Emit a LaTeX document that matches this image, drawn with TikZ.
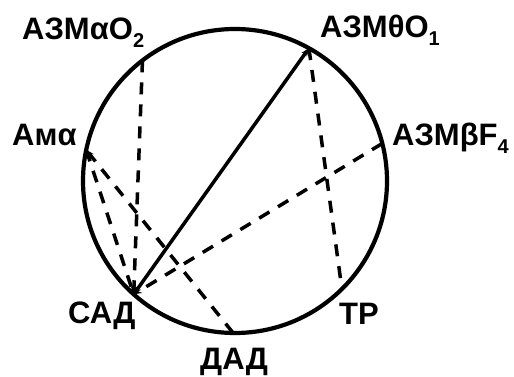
\documentclass[tikz,border=0pt]{standalone}
\usepackage{fontspec}
\setmainfont{Liberation Sans}
\usetikzlibrary{calc,arrows.meta}

\newcommand{\lowsub}[1]{\raisebox{-8pt}{\fontsize{20}{22}\selectfont #1}}

\begin{document}
\begin{tikzpicture}[
  x=1pt,y=1pt,
  line join=round,
  >={Stealth[length=8pt,width=6.5pt]},
  ring/.style={black,line width=4.2pt},
  mainline/.style={black,line width=3.5pt},
  linkline/.style={black,line width=3.5pt,dash pattern=on 12pt off 10pt},
  lbl/.style={font=\fontsize{31}{34}\selectfont\bfseries,inner sep=0pt,anchor=base west}
]
\path[use as bounding box] (0,0) rectangle (514,376);

\coordinate (C) at (235,195);
\draw[ring] (C) circle[radius=152];

% points on the circle
\coordinate (azmaO) at ($(C)+(127.5:152)$);
\coordinate (azmtO) at ($(C)+(60.9:152)$);
\coordinate (azmbF) at ($(C)+(14.3:152)$);
\coordinate (ama)   at ($(C)+(168.2:152)$);
\coordinate (sad)   at ($(C)+(228.2:152)$);
\coordinate (dad)   at ($(C)+(269.3:152)$);
\coordinate (tr)    at ($(C)+(314.7:152)$);

% labels
\node[lbl] (azmaOlbl) at (22,337)  {АЗМαО\lowsub{2}};
\node[lbl] (azmtOlbl) at (320,338) {АЗМθО\lowsub{1}};
\node[lbl] (azmbFlbl) at (392,231) {АЗМβF\lowsub{4}};
\node[lbl] (amalbl)   at (12,231)  {Амα};
\node[lbl] (sadlbl)   at (68,53)   {САД};
\node[lbl] (trlbl)    at (339,52)  {ТР};
\node[lbl] (dadlbl)   at (200,7)   {ДАД};

% links
\draw[mainline,<->] (sad) -- (azmtO);
\draw[linkline,->] (azmaO) -- (sad);
\draw[linkline,->] (ama) -- (sad);
\draw[linkline,->] (azmbF) -- (sad);
\draw[linkline,->] (dad) -- (ama);
\draw[linkline] (azmtO) -- (tr);
\end{tikzpicture}
\end{document}
